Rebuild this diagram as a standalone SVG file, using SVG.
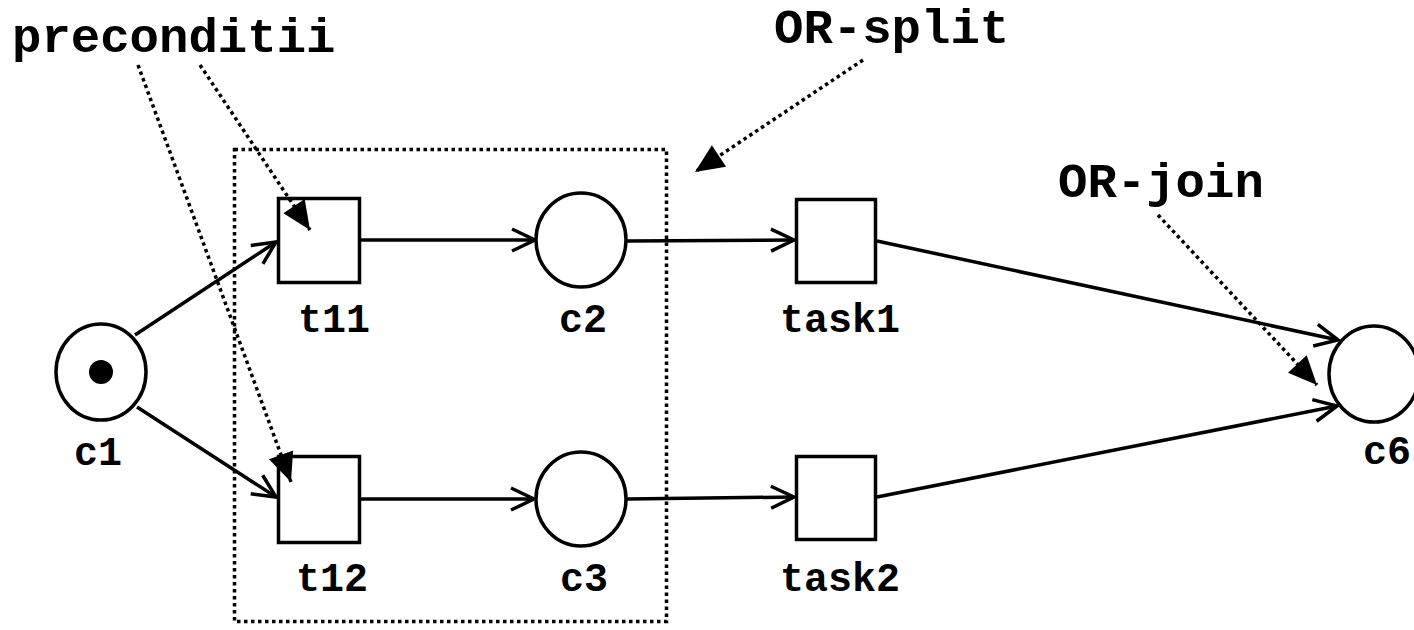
<svg xmlns="http://www.w3.org/2000/svg" width="1414" height="630" viewBox="0 0 1414 630">
  <style>
    .place { fill: #fff; stroke: #000; stroke-width: 3.5; }
    .trans { fill: #fff; stroke: #000; stroke-width: 3.5; }
    .arc { fill: none; stroke: #000; stroke-width: 3.5; marker-end: url(#open); }
    .note { fill: none; stroke: #000; stroke-width: 3.5; stroke-dasharray: 3.5 3.5; }
    .noteArrow { fill: none; stroke: #000; stroke-width: 3.5; stroke-dasharray: 3.5 3.5; marker-end: url(#solid); }
    .lbl { font-family: "Liberation Mono", "Courier New", monospace; font-weight: bold; font-size: 40px; fill: #000; }
    .big { font-family: "Liberation Mono", "Courier New", monospace; font-weight: bold; font-size: 49px; fill: #000; }
  </style>
  <defs>
    <marker id="open" markerUnits="userSpaceOnUse" markerWidth="30" markerHeight="30" viewBox="-26 -14 30 28" refX="0" refY="0" orient="auto">
      <path d="M-23,-11 L0,0 L-23,11" fill="none" stroke="#000" stroke-width="3.5"/>
    </marker>
    <marker id="solid" markerUnits="userSpaceOnUse" markerWidth="32" markerHeight="32" viewBox="-28 -14 30 28" refX="0" refY="0" orient="auto">
      <path d="M-27,-12 L0,0 L-27,12 Z" fill="#000" stroke="none"/>
    </marker>
  </defs>

  <!-- region around the split -->
  <rect class="note" x="234.5" y="149.5" width="432" height="472"/>

  <g id="connectors">
    <line class="arc" x1="135" y1="335" x2="276" y2="242"/>
    <line class="arc" x1="137" y1="407" x2="276" y2="497"/>
    <line class="arc" x1="361" y1="240" x2="535" y2="240"/>
    <line class="arc" x1="627" y1="241" x2="794" y2="240"/>
    <line class="arc" x1="361" y1="499" x2="534" y2="499"/>
    <line class="arc" x1="627" y1="499" x2="794" y2="497"/>
    <line class="arc" x1="877" y1="241" x2="1338" y2="340"/>
    <line class="arc" x1="877" y1="497" x2="1337" y2="406"/>
  </g>

  <g id="c1">
    <ellipse class="place" cx="101" cy="372" rx="45" ry="48"/>
    <circle cx="101" cy="372" r="12" fill="#000"/>
    <text class="lbl" x="74" y="465">c1</text>
  </g>
  <g id="t11">
    <rect class="trans" x="278.5" y="198.5" width="81" height="84"/>
    <text class="lbl" x="298" y="332">t11</text>
  </g>
  <g id="t12">
    <rect class="trans" x="278.5" y="456.5" width="81" height="86"/>
    <text class="lbl" x="296" y="591">t12</text>
  </g>
  <g id="c2">
    <ellipse class="place" cx="581" cy="240" rx="45" ry="47"/>
    <text class="lbl" x="559" y="332">c2</text>
  </g>
  <g id="c3">
    <ellipse class="place" cx="581" cy="499" rx="45" ry="47"/>
    <text class="lbl" x="560" y="591">c3</text>
  </g>
  <g id="task1">
    <rect class="trans" x="796.5" y="199.5" width="79" height="83"/>
    <text class="lbl" x="780" y="332">task1</text>
  </g>
  <g id="task2">
    <rect class="trans" x="796.5" y="456.5" width="79" height="83"/>
    <text class="lbl" x="780" y="591">task2</text>
  </g>
  <g id="c6">
    <ellipse class="place" cx="1374" cy="374" rx="45" ry="48"/>
    <text class="lbl" x="1363" y="464">c6</text>
  </g>

  <g id="annotations">
    <text class="big" x="12" y="52">preconditii</text>
    <line class="noteArrow" x1="138" y1="65" x2="291" y2="482"/>
    <line class="noteArrow" x1="200" y1="65" x2="310" y2="230"/>
    <text class="big" x="774" y="43">OR-split</text>
    <line class="noteArrow" x1="863" y1="60" x2="695" y2="172"/>
    <text class="big" x="1058" y="197">OR-join</text>
    <line class="noteArrow" x1="1158" y1="215" x2="1317" y2="385"/>
  </g>
</svg>
